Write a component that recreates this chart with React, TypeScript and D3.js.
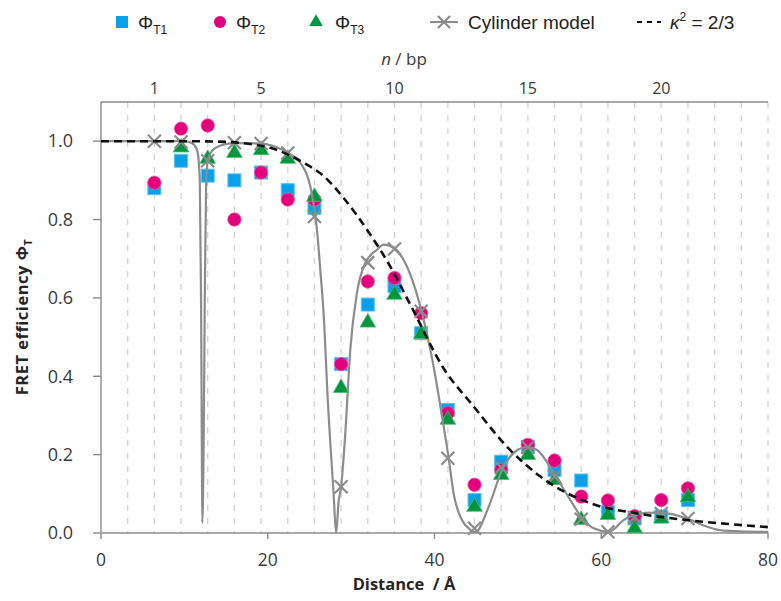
import React, { useEffect, useRef } from 'react';
import * as d3 from 'd3';

// base pairs on the top axis (each point sits on one)
const bp = [1, 2, 3, 4, 5, 6, 7, 8, 9, 10, 11, 12, 13, 14, 15, 16, 17, 18, 19, 20, 21];
const phiT1 = [0.88, 0.95, 0.912, 0.9, 0.92, 0.875, 0.83, 0.431, 0.583, 0.63, 0.51, 0.314, 0.084, 0.182, 0.22, 0.161, 0.134, 0.054, 0.037, 0.042, 0.084];
const phiT2 = [0.894, 1.032, 1.04, 0.8, 0.92, 0.851, 0.851, 0.431, 0.642, 0.651, 0.561, 0.306, 0.123, 0.161, 0.225, 0.185, 0.093, 0.083, 0.043, 0.084, 0.114];
const phiT3 = [null, 0.984, 0.955, 0.97, 0.977, 0.955, 0.858, 0.37, 0.537, 0.608, 0.508, 0.289, 0.067, 0.148, 0.199, 0.135, 0.033, 0.046, 0.012, 0.037, 0.091];
const cylinderPts = [1.0, 0.998, 0.95, 0.996, 0.994, 0.97, 0.808, 0.118, 0.69, 0.725, 0.566, 0.191, 0.012, 0.168, 0.219, 0.144, 0.035, 0.003, 0.04, 0.05, 0.037];

// cylinder model curve, [distance Å, efficiency]
const cylinderCurve = [
  [0, 1], [5, 1], [9, 1], [10.5, 0.998], [11.2, 0.99], [11.6, 0.97], [11.85, 0.9], [12.0, 0.6],
  [12.1, 0.2], [12.15, 0.026], [12.3, 0.2], [12.45, 0.6], [12.6, 0.88], [12.8, 0.95], [13.3, 0.975],
  [14.5, 0.99], [16, 0.995], [19.2, 0.994], [21, 0.985], [22.4, 0.97], [23.9, 0.945], [25.1, 0.885],
  [25.6, 0.825], [25.9, 0.774], [26.3, 0.672], [26.7, 0.56], [27.2, 0.34], [27.9, 0.1], [28.2, 0],
  [28.5, 0.08], [28.8, 0.118], [29.3, 0.255], [29.9, 0.468], [30.7, 0.613], [31.7, 0.689], [33.1, 0.723],
  [33.9, 0.736], [35.1, 0.728], [36.7, 0.68], [38.3, 0.578], [39.8, 0.435], [41.1, 0.272], [41.7, 0.191],
  [42.3, 0.1], [43.3, 0.033], [44.3, 0.008], [44.9, 0.002], [46.5, 0.067], [48.1, 0.161], [49.7, 0.208],
  [51.1, 0.219], [52.3, 0.212], [54.3, 0.153], [56.3, 0.084], [57.7, 0.038], [59.1, 0.012], [60.9, 0.003],
  [62.7, 0.033], [64.3, 0.049], [66.3, 0.052], [68.3, 0.049], [70.5, 0.035], [72.7, 0.016], [74.7, 0.006],
  [79.5, 0.003], [80, 0.003]
];

// kappa^2 = 2/3 curve
const kappaCurve = [
  [0, 1], [10, 1], [14, 0.999], [17, 0.995], [20.3, 0.983], [24.3, 0.945], [26.7, 0.911], [29.1, 0.855],
  [31.9, 0.774], [34.7, 0.68], [37.1, 0.583], [41.1, 0.42], [44.7, 0.323], [48.7, 0.22], [52.7, 0.144],
  [58.7, 0.076], [64.3, 0.05], [70.3, 0.033], [79.4, 0.016], [80, 0.015]
];

const xTicks = [0, 20, 40, 60, 80];
const yTicks = [0, 0.2, 0.4, 0.6, 0.8, 1.0];
const topLabels = [1, 5, 10, 15, 20];
const gridN = d3.range(0, 25);

const BLUE = '#08a0e6';
const PINK = '#e4007c';
const GREEN = '#009640';
const GRAY = '#8c8c8c';
const AXIS = '#8c8c8c';
const TICKFONT = '"Open Sans", sans-serif';
const LEGFONT = '"Liberation Sans", Arial, sans-serif';

const W = 781, H = 601;
const left = 101, right = 768, top = 102, bottom = 533;

export default function App() {
  const ref = useRef(null);

  useEffect(() => {
    const svg = d3.select(ref.current);
    svg.selectAll('*').remove();

    const x = d3.scaleLinear([0, 80], [left, right]);
    const xTop = d3.scaleLinear([-1, 24], [left, right]);
    const y = d3.scaleLinear([0, 1.1], [bottom, top]);

    svg.append('rect').attr('width', W).attr('height', H).attr('fill', 'white');

    // dashed bp gridlines
    svg.append('g').selectAll('line').data(gridN).join('line')
      .attr('x1', d => xTop(d)).attr('x2', d => xTop(d))
      .attr('y1', top).attr('y2', bottom)
      .attr('stroke', '#d4d4d4').attr('stroke-width', 1.3)
      .attr('stroke-dasharray', '6,7');

    // axes
    const ax = svg.append('g').attr('stroke', AXIS).attr('stroke-width', 1.4);
    ax.append('line').attr('x1', left).attr('x2', left).attr('y1', top).attr('y2', bottom);
    ax.append('line').attr('x1', left).attr('x2', right).attr('y1', bottom).attr('y2', bottom);
    ax.append('line').attr('x1', left).attr('x2', right).attr('y1', top).attr('y2', top);
    ax.selectAll('.yt').data(yTicks).join('line').attr('class', 'yt')
      .attr('x1', left - 8).attr('x2', left).attr('y1', d => y(d)).attr('y2', d => y(d));
    ax.selectAll('.xt').data(xTicks).join('line').attr('class', 'xt')
      .attr('x1', d => x(d)).attr('x2', d => x(d)).attr('y1', bottom).attr('y2', bottom + 6);

    const labels = svg.append('g').attr('font-family', TICKFONT).attr('font-size', 18).attr('fill', '#3a3a3a');
    labels.selectAll('.yl').data(yTicks).join('text').attr('class', 'yl')
      .attr('x', 73).attr('y', d => y(d)).attr('dy', '0.35em').attr('text-anchor', 'end')
      .text(d => d3.format('.1f')(d));
    labels.selectAll('.xl').data(xTicks).join('text').attr('class', 'xl')
      .attr('x', d => x(d)).attr('y', 566).attr('text-anchor', 'middle').attr('font-size', 17.5)
      .text(d => d);
    labels.selectAll('.tl').data(topLabels).join('text').attr('class', 'tl')
      .attr('x', d => xTop(d)).attr('y', 94).attr('text-anchor', 'middle').attr('font-size', 16)
      .text(d => d);

    const nt = labels.append('text').attr('x', 404).attr('y', 65).attr('text-anchor', 'middle').attr('font-size', 17);
    nt.append('tspan').attr('font-style', 'italic').text('n');
    nt.append('tspan').text(' / bp');

    svg.append('text').attr('x', 404).attr('y', 590).attr('text-anchor', 'middle')
      .attr('font-family', TICKFONT).attr('font-size', 16.5).attr('font-weight', 'bold').attr('fill', '#262626')
      .text('Distance  / Å').style('white-space', 'pre');

    const yt = svg.append('text').attr('transform', 'translate(28,317) rotate(-90)').attr('text-anchor', 'middle')
      .attr('font-family', TICKFONT).attr('font-size', 16.5).attr('font-weight', 'bold').attr('fill', '#262626')
      .attr('letter-spacing', 0.5);
    yt.append('tspan').text('FRET efficiency Φ');
    yt.append('tspan').attr('font-size', 11).attr('dy', 4).text('T');

    // markers
    const pts = (vals) => bp.map((n, i) => ({ n, v: vals[i] })).filter(d => d.v != null);
    const plot = svg.append('g');
    plot.selectAll('.sq').data(pts(phiT1)).join('rect').attr('class', 'sq')
      .attr('x', d => xTop(d.n) - 6.5).attr('y', d => y(d.v) - 6.5).attr('width', 13).attr('height', 13)
      .attr('fill', BLUE).attr('stroke', '#5cc3f0').attr('stroke-width', 1);
    plot.selectAll('.ci').data(pts(phiT2)).join('circle').attr('class', 'ci')
      .attr('cx', d => xTop(d.n)).attr('cy', d => y(d.v)).attr('r', 6.7)
      .attr('fill', PINK).attr('stroke', '#ee5aa5').attr('stroke-width', 0.8);
    const tri = d3.symbol(d3.symbolTriangle, 105);
    plot.selectAll('.tr').data(pts(phiT3)).join('path').attr('class', 'tr')
      .attr('transform', d => `translate(${xTop(d.n)},${y(d.v)})`).attr('d', tri())
      .attr('fill', GREEN).attr('stroke', '#4dbb6e').attr('stroke-width', 0.8);

    const line = d3.line().x(d => x(d[0])).y(d => y(d[1])).curve(d3.curveMonotoneX);
    plot.append('path').attr('d', line(cylinderCurve)).attr('fill', 'none')
      .attr('stroke', GRAY).attr('stroke-width', 2.2);

    const cross = (g, cx, cy, s) => {
      g.append('path').attr('d', `M${cx - s},${cy - s}L${cx + s},${cy + s}M${cx - s},${cy + s}L${cx + s},${cy - s}`)
        .attr('stroke', GRAY).attr('stroke-width', 2.2).attr('fill', 'none');
    };
    const cg = plot.append('g');
    bp.forEach((n, i) => cross(cg, xTop(n), y(cylinderPts[i]), 6.5));

    plot.append('path').attr('d', line(kappaCurve)).attr('fill', 'none')
      .attr('stroke', '#111').attr('stroke-width', 2.6).attr('stroke-dasharray', '8,5');

    // legend
    const lg = svg.append('g').attr('font-family', LEGFONT).attr('font-size', 19).attr('fill', '#222');
    const ly = 22;
    lg.append('rect').attr('x', 116).attr('y', ly - 6).attr('width', 12).attr('height', 12).attr('fill', BLUE);
    lg.append('circle').attr('cx', 220).attr('cy', ly).attr('r', 6).attr('fill', PINK);
    lg.append('path').attr('transform', `translate(316,${ly})`).attr('d', d3.symbol(d3.symbolTriangle, 80)()).attr('fill', GREEN);
    const sub = (xx, s) => {
      const t = lg.append('text').attr('x', xx).attr('y', ly).attr('dy', '0.36em');
      t.append('tspan').text('Φ');
      t.append('tspan').attr('font-size', 12).attr('dy', 5).text(s);
    };
    sub(138, 'T1');
    sub(236, 'T2');
    sub(335, 'T3');
    lg.append('line').attr('x1', 430).attr('x2', 458).attr('y1', ly).attr('y2', ly).attr('stroke', GRAY).attr('stroke-width', 2);
    cross(lg, 444, ly, 6);
    lg.append('text').attr('x', 468).attr('y', ly).attr('dy', '0.36em').text('Cylinder model');
    lg.append('line').attr('x1', 637).attr('x2', 661).attr('y1', ly).attr('y2', ly)
      .attr('stroke', '#111').attr('stroke-width', 2).attr('stroke-dasharray', '5,5');
    const kt = lg.append('text').attr('x', 670).attr('y', ly).attr('dy', '0.36em');
    kt.append('tspan').attr('font-style', 'italic').text('κ');
    kt.append('tspan').attr('font-size', 12).attr('dy', -8).text('2');
    kt.append('tspan').attr('dy', 8).text(' = 2/3');
  }, []);

  return <svg ref={ref} width={W} height={H} style={{ position: 'absolute', left: 0, top: 0 }} />;
}
